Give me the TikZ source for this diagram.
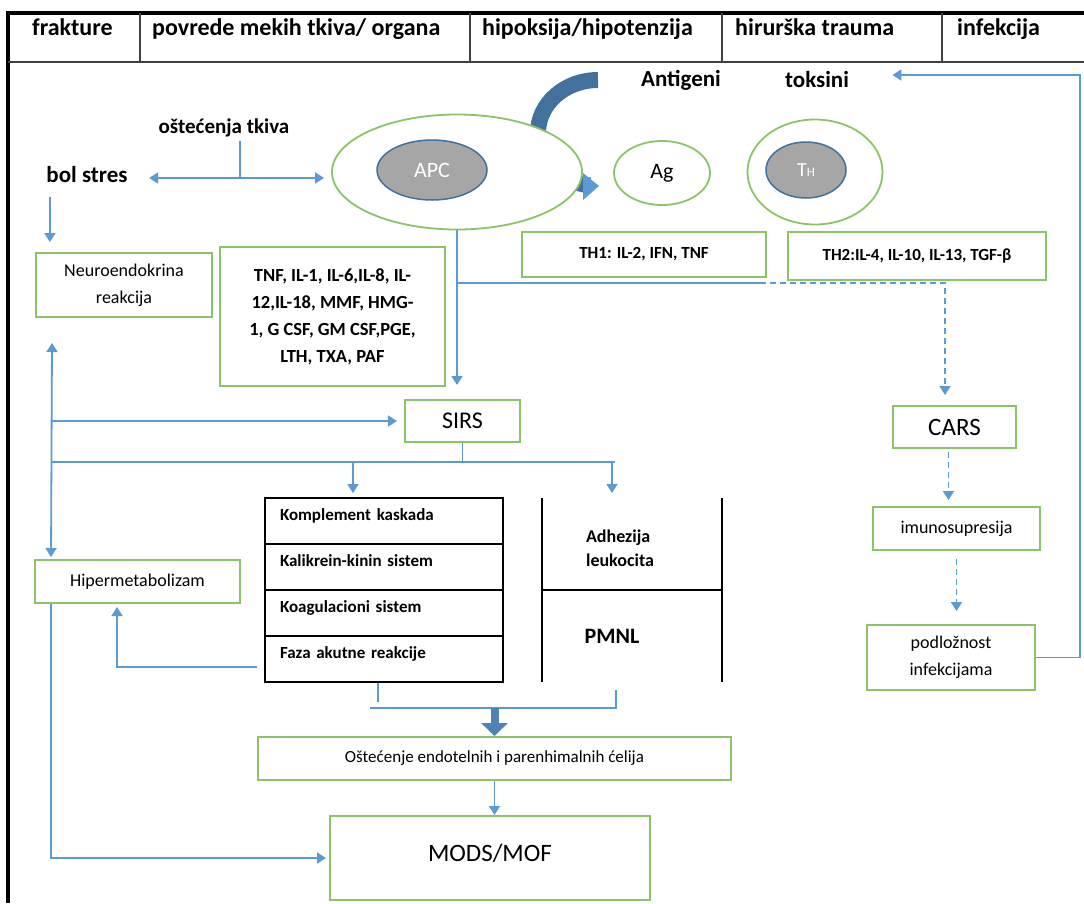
\documentclass[tikz,border=0pt]{standalone}
\usepackage{fontspec}
\setmainfont{Carlito}
\usetikzlibrary{shapes.geometric,arrows.meta,calc}

\definecolor{zelena}{RGB}{140,195,105}
\definecolor{plava}{RGB}{91,155,213}
\definecolor{tamnoplava}{RGB}{65,113,156}
\definecolor{siva}{RGB}{166,166,166}

\tikzset{
  gbox/.style={draw=zelena, line width=2pt, fill=white, align=center, inner sep=2pt,
    font=\fontsize{18}{27}\selectfont},
  kbox/.style={draw=black, line width=1.8pt, minimum width=238pt, minimum height=46pt,
    text width=208pt, inner xsep=15pt, inner ysep=0pt, align=left, text height=12pt,
    text depth=14pt, font=\bfseries\fontsize{17}{20}\selectfont},
  naslov/.style={anchor=base west, inner sep=0pt, font=\bfseries\fontsize{24}{26}\selectfont},
  veza/.style={draw=plava, line width=1.8pt},
  str/.style={veza, -{Triangle[width=11pt,length=9pt]}},
  dvostr/.style={veza, {Triangle[width=11pt,length=9pt]}-{Triangle[width=11pt,length=9pt]}},
  isprek/.style={dash pattern=on 6pt off 4pt},
  debela/.style={draw=plava!85!black, line width=8pt, -{Triangle[width=26pt,length=13pt]}},
}

\begin{document}
\begin{tikzpicture}[x=1pt,y=-1pt]
\useasboundingbox (0,0) rectangle (1084,903);

% zaglavlje
\draw[line width=4pt] (7,13) -- (1084,13);
\draw[line width=4pt] (8,11) -- (8,903);
\draw[line width=1.2pt, darkgray] (8,62) -- (1084,62);
\foreach \x in {140,470,722,942}
  \draw[line width=1.2pt, darkgray] (\x,13) -- (\x,62);
\node[naslov] (h1) at (32,35) {frakture};
\node[naslov] (h2) at (152,35) {povrede mekih tkiva/ organa};
\node[naslov] (h3) at (482,35) {hipoksija/hipotenzija};
\node[naslov] (h4) at (735,35) {hirurška trauma};
\node[naslov] (h5) at (957,35) {infekcija};

% zakrivljena strelica iza APC
\draw[tamnoplava, line width=16pt] (598,80) arc[start angle=-90, end angle=-262, x radius=60, y radius=53];

% celije
\node[ellipse, draw=zelena, line width=1.8pt, fill=white, minimum width=250pt, minimum height=115pt] (apcvan) at (457,172) {};
\fill[plava] (583,173) -- (599,186) -- (583,200) -- cycle;
\node[ellipse, draw=tamnoplava, line width=1.5pt, fill=siva, minimum width=110pt, minimum height=60pt,
  text=white, font=\fontsize{22}{24}\selectfont] (apc) at (432,170) {APC};
\node[ellipse, draw=zelena, line width=1.8pt, minimum width=96pt, minimum height=64pt,
  font=\fontsize{22}{24}\selectfont] (ag) at (662,173) {Ag};
\node[ellipse, draw=zelena, line width=1.8pt, minimum width=135pt, minimum height=105pt] (thvan) at (815,172) {};
\node[ellipse, draw=tamnoplava, line width=1.5pt, fill=siva, minimum width=80pt, minimum height=56pt,
  text=white, font=\fontsize{20}{22}\selectfont] (th) at (806,170) {T{\fontsize{13}{14}\selectfont H}};

\node[font=\bfseries\fontsize{23}{26}\selectfont] (antigeni) at (681,80) {Antigeni};
\node[font=\bfseries\fontsize{23}{26}\selectfont] (toksini) at (817,80) {toksini};
\node[font=\bfseries\fontsize{21}{24}\selectfont] (ostec) at (224,128) {oštećenja tkiva};
\node[font=\bfseries\fontsize{23}{26}\selectfont] (bol) at (87,175) {bol stres};

% kutije
\node[gbox, minimum width=244pt, minimum height=45pt, font=\bfseries\fontsize{17}{20}\selectfont] (th1) at (644,254.5) {TH1: IL-2, IFN, TNF};
\node[gbox, minimum width=258pt, minimum height=48pt, font=\bfseries\fontsize{17}{20}\selectfont] (th2) at (917,256) {TH2:IL-4, IL-10, IL-13, TGF-β};
\node[gbox, minimum width=176pt, minimum height=64pt] (neuro) at (124,285) {Neuroendokrina\\reakcija};
\node[gbox, minimum width=225pt, minimum height=139pt, font=\bfseries\fontsize{18.5}{27}\selectfont] (citokini) at (332.5,316.5)
  {TNF, IL-1, IL-6,IL-8, IL-\\12,IL-18, MMF, HMG-\\1, G CSF, GM CSF,PGE,\\LTH, TXA, PAF};
\node[gbox, minimum width=115pt, minimum height=42pt, font=\fontsize{24}{26}\selectfont] (sirs) at (462.5,421) {SIRS};
\node[gbox, minimum width=123pt, minimum height=42pt, font=\fontsize{25}{27}\selectfont] (cars) at (954.5,427) {CARS};
\node[gbox, minimum width=167pt, minimum height=43pt] (imuno) at (956.5,528.5) {imunosupresija};
\node[gbox, minimum width=168pt, minimum height=65pt] (podl) at (951,657.5) {podložnost\\infekcijama};
\node[gbox, minimum width=205pt, minimum height=43pt] (hiper) at (137.5,581.5) {Hipermetabolizam};
\node[gbox, minimum width=473pt, minimum height=43pt, font=\fontsize{17}{20}\selectfont] (osteca) at (494.5,758.5) {Oštećenje endotelnih i parenhimalnih ćelija};
\node[gbox, minimum width=320pt, minimum height=84pt, text height=36pt, text depth=30pt, font=\fontsize{25}{27}\selectfont] (mods) at (490,858) {MODS/MOF};

% kaskade
\foreach \ime/\tekst [count=\i] in {komp/Komplement kaskada, kal/Kalikrein-kinin sistem,
    koag/Koagulacioni sistem, faza/Faza akutne reakcije}
  \node[kbox] (\ime) at (384,475+46*\i) {\tekst};

\draw[line width=1.8pt] (542,498) -- (542,682) (722,498) -- (722,682) (542,590) -- (722,590);
\node[align=left, font=\bfseries\fontsize{18}{24}\selectfont] (adh) at (620,548) {Adhezija\\leukocita};
\node[font=\bfseries\fontsize{22}{24}\selectfont] (pmnl) at (612,636) {PMNL};

% veze
\coordinate (t1) at (240,178);
\draw[veza] (ostec.south -| t1) -- (t1);
\draw[dvostr, shorten <=18pt, shorten >=7pt] (bol.east |- t1) -- (apcvan.west |- t1);
\coordinate (b1) at ([xshift=7pt]bol.south west);
\draw[str, shorten <=10pt, shorten >=10pt] (b1) -- (b1 |- neuro.north);

\coordinate (r1) at (457,283);
\coordinate (r3) at (760,283);
\coordinate (r2) at (945,283);
\draw[str, shorten >=14pt] (apcvan.south) -- (apcvan.south |- sirs.north);
\draw[veza] (r1) -- (r3);
\draw[str, isprek, shorten >=10pt] (r3) -- (r2) -- (r2 |- cars.north);

\coordinate (l1) at (52,343);
\coordinate (l2) at ([xshift=17pt]hiper.north west);
\coordinate (l3) at (52,462);
\draw[dvostr, shorten >=2pt] (l1) -- (l2);
\draw[str, shorten >=7pt] (l1 |- sirs.west) -- (sirs.west);
\draw[veza] (l3) -- (615,462);
\draw[veza] (sirs.south) -- (sirs.south |- l3);
\coordinate (k1) at (353,462);
\coordinate (k2) at (612,462);
\draw[str, shorten >=4pt] (k1) -- (k1 |- komp.north);
\draw[str, shorten >=5pt] (k2) -- (612,498);

\draw[str, shorten >=3pt] ($(faza.west)+(-7,8)$) -| ([xshift=83pt]hiper.south west);
\draw[str, shorten >=3pt] ([xshift=17pt]hiper.south west) |- (mods.west);

\coordinate (m1) at (370,708);
\coordinate (m2) at (616,708);
\draw[veza] ([xshift=-6pt]faza.south) -- ++(0,19);
\draw[veza] (m1) -- (m2) -- ++(0,-18);
\draw[debela] (osteca.north |- m1) -- (osteca.north);
\draw[str] (osteca.south) -- (osteca.south |- mods.north);

\coordinate (c1) at ([xshift=-6pt]cars.south);
\draw[str, isprek, shorten <=3pt, shorten >=6pt] (c1) -- (c1 |- imuno.north);
\draw[str, isprek, shorten <=8pt, shorten >=13pt] (imuno.south) -- (imuno.south |- podl.north);
\coordinate (d1) at (1080,75);
\draw[str, shorten >=40pt] (podl.east) -| (d1) -- (toksini.east |- d1);
\end{tikzpicture}
\end{document}
